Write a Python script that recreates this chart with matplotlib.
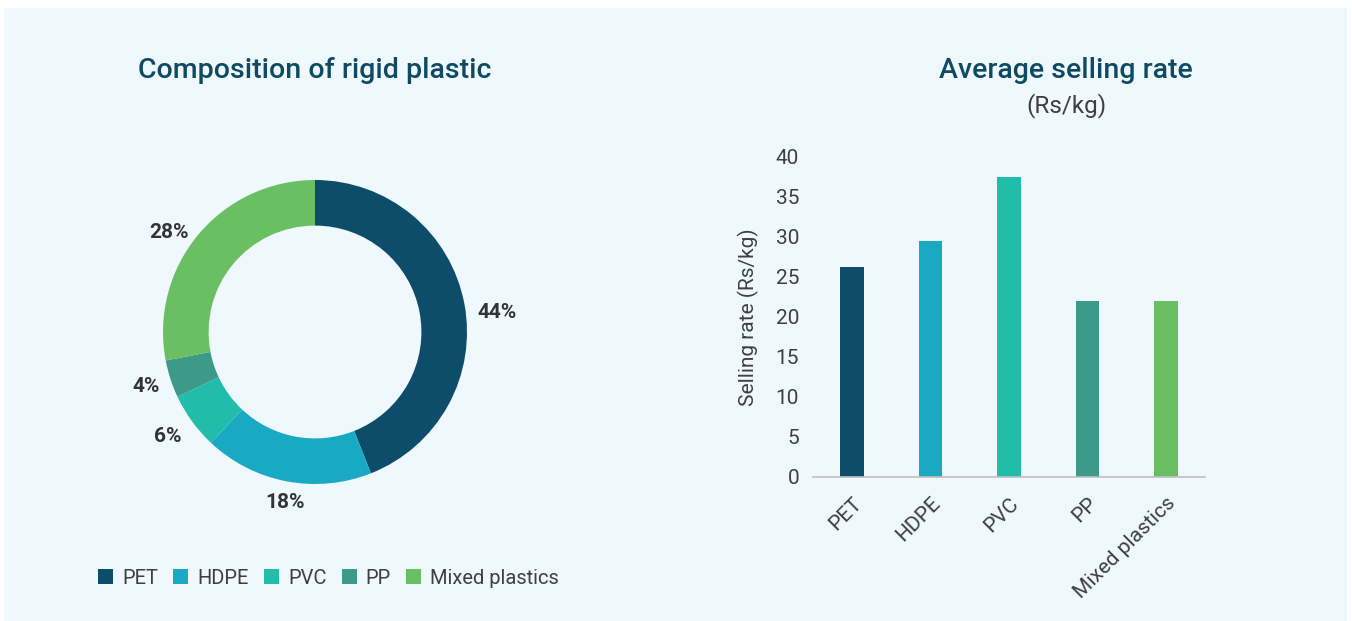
import matplotlib
matplotlib.use("Agg")
import matplotlib.pyplot as plt
from matplotlib.patches import Rectangle

plt.rcParams['font.family'] = ['Roboto', 'DejaVu Sans']

# Data
donut_labels = ["PET", "HDPE", "PVC", "PP", "Mixed plastics"]
donut_shares = [44, 18, 6, 4, 28]
bar_categories = ["PET", "HDPE", "PVC", "PP", "Mixed plastics"]
bar_values = [26.2, 29.5, 37.5, 22.0, 22.0]
colors = ["#0e4d6a", "#19a9c2", "#22bcaa", "#3d9a88", "#6abf63"]

BG = "#eff8fd"
TITLE_C = "#0e4a62"
TEXT_C = "#3f3f3f"

W, H = 1352, 621
fig = plt.figure(figsize=(W / 100, H / 100), dpi=100)
fig.patch.set_facecolor("white")
fig.patches.append(Rectangle((4 / W, 0), (1347 - 4) / W, (621 - 8) / H,
                             transform=fig.transFigure, facecolor=BG,
                             edgecolor="none", zorder=-10))

def fx(px):
    return px / W

def fy(py):
    return 1 - py / H

# Donut
cx, cy, r = 315, 332, 152
ax1 = fig.add_axes([fx(cx - r), fy(cy + r), 2 * r / W, 2 * r / H])
ax1.set_facecolor("none")
wedges, _ = ax1.pie(donut_shares, colors=colors, startangle=90, counterclock=False,
                    radius=1.0, wedgeprops=dict(width=0.30, edgecolor="none"))
ax1.set_aspect("equal")
ax1.set_xlim(-1, 1)
ax1.set_ylim(-1, 1)
ax1.axis("off")

label_pos = [(497, 313), (285, 503), (168, 437), (146, 386), (169, 233)]
for (px, py), s in zip(label_pos, donut_shares):
    fig.text(fx(px), fy(py), f"{s}%", ha="center", va="center",
             fontsize=15, fontweight="bold", color="#333333")

fig.text(fx(315), fy(70), "Composition of rigid plastic", ha="center", va="center",
         fontsize=20.5, fontweight="medium", color=TITLE_C)

# Legend
handles = [Rectangle((0, 0), 1, 1, facecolor=c, edgecolor="none") for c in colors]
leg = fig.legend(handles, donut_labels, loc="center left",
                 bbox_to_anchor=(fx(90), fy(578)), ncol=5, frameon=False,
                 fontsize=14.5, handlelength=0.75, handleheight=0.75,
                 handletextpad=0.45, columnspacing=0.75, borderaxespad=0)
for t in leg.get_texts():
    t.set_color(TEXT_C)

# Bar chart
left, right, top, bottom = 813, 1205, 157, 477
ax2 = fig.add_axes([fx(left), fy(bottom), (right - left) / W, (bottom - top) / H])
ax2.set_facecolor("none")
x = range(len(bar_categories))
ax2.bar(x, bar_values, width=0.3, color=colors)
ax2.set_xlim(-0.5, len(bar_categories) - 0.5)
ax2.set_ylim(0, 40)
ax2.set_yticks(range(0, 41, 5))
ax2.set_xticks(list(x))
ax2.set_xticklabels(bar_categories, rotation=45, ha="right", rotation_mode="anchor")
for s in ["top", "right", "left"]:
    ax2.spines[s].set_visible(False)
ax2.spines["bottom"].set_color("#bfbfbf")
ax2.spines["bottom"].set_linewidth(1.2)
ax2.tick_params(axis="y", length=0, pad=10, labelsize=15, labelcolor=TEXT_C)
ax2.tick_params(axis="x", length=0, pad=12, labelsize=15, labelcolor=TEXT_C)
ax2.set_ylabel("Selling rate (Rs/kg)", fontsize=15, color=TEXT_C, labelpad=12)

fig.text(fx(1066), fy(70), "Average selling rate", ha="center", va="center",
         fontsize=20.5, fontweight="medium", color=TITLE_C)
fig.text(fx(1066), fy(106), "(Rs/kg)", ha="center", va="center",
         fontsize=17.5, color=TEXT_C)

fig.savefig("out.png", dpi=100, facecolor=fig.get_facecolor())
